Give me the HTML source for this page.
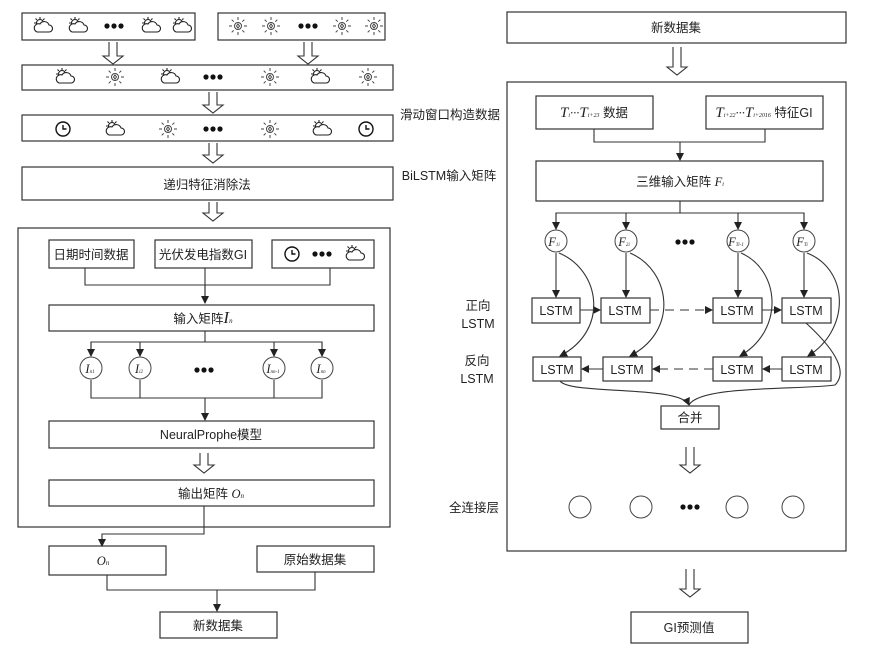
<!DOCTYPE html>
<html><head><meta charset="utf-8"><style>
body{margin:0;background:#fff;}
svg text{font-family:"Liberation Sans","Noto Sans CJK SC",sans-serif;font-size:12.5px;fill:#222;}
.m{font-family:"Liberation Serif",serif;font-style:italic;}
</style></head><body>
<svg width="880" height="656" viewBox="0 0 880 656" xmlns="http://www.w3.org/2000/svg">
<defs>
<marker id="a" markerWidth="8" markerHeight="8" refX="7" refY="4" orient="auto" markerUnits="userSpaceOnUse"><path d="M0,0 L8,4 L0,8 z" fill="#222"/></marker>
<g id="cl" fill="none" stroke="#222" stroke-width="1.1">
<circle cx="-3" cy="-3" r="3.5"/>
<path d="M-3,-9 v2 M-9,-3 h2 M-7.5,-7.5 l1.4,1.4 M1.5,-7.5 l-1.4,1.4"/>
<path d="M-6,6 h12 a3.5,3.5 0 0 0 0,-7 a5,5 0 0 0 -9,-1 a3.5,3.5 0 0 0 -3,8z" fill="#fff"/>
</g>
<g id="su" fill="none" stroke="#444" stroke-width="1">
<circle r="3.5"/><path d="M0,-2 l1.5,2 l-1.5,2 l-1.5,-2z"/>
<path d="M0,-9 v3 M0,6 v3 M-9,0 h3 M6,0 h3 M-6.3,-6.3 l2,2 M6.3,-6.3 l-2,2 M-6.3,6.3 l2,-2 M6.3,6.3 l-2,-2"/>
</g>
<g id="ck" fill="none" stroke="#111" stroke-width="1.4"><circle r="7"/><path d="M0,-4 V0 H3.5"/></g>
<g id="dt" fill="#111"><circle cx="-7" r="2.6"/><circle r="2.6"/><circle cx="7" r="2.6"/></g>
</defs>
<g fill="none" stroke="#333" stroke-width="1.2">
<rect x="22" y="13" width="173" height="27"/>
<rect x="218" y="13" width="167" height="27"/>
<rect x="22" y="65" width="371" height="25"/>
<rect x="22" y="115" width="371" height="26"/>
<rect x="22" y="167" width="371" height="33"/>
<rect x="18" y="228" width="372" height="299"/>
<rect x="49" y="240" width="85" height="28"/>
<rect x="155" y="240" width="97" height="28"/>
<rect x="272" y="240" width="102" height="28"/>
<rect x="49" y="305" width="325" height="26"/>
<rect x="49" y="421" width="325" height="27"/>
<rect x="49" y="480" width="325" height="26"/>
<rect x="49" y="546" width="117" height="29"/>
<rect x="257" y="546" width="117" height="26"/>
<rect x="160" y="612" width="117" height="26"/>
<rect x="507" y="12" width="339" height="31"/>
<rect x="507" y="82" width="339" height="469"/>
<rect x="536" y="96" width="117" height="33"/>
<rect x="706" y="96" width="117" height="33"/>
<rect x="536" y="161" width="287" height="40"/>
<rect x="532" y="298" width="48" height="25"/>
<rect x="601" y="298" width="49" height="25"/>
<rect x="713" y="298" width="49" height="25"/>
<rect x="782" y="298" width="49" height="25"/>
<rect x="533" y="357" width="48" height="24"/>
<rect x="603" y="357" width="49" height="24"/>
<rect x="713" y="357" width="49" height="24"/>
<rect x="782" y="357" width="49" height="24"/>
<rect x="661" y="406" width="58" height="23"/>
<rect x="631" y="612" width="117" height="31"/>
</g>
<g fill="#fff" stroke="#333" stroke-width="1.1">
<path d="M109,42 V56 H103 L113,64 L123,56 H117 V42"/>
<path d="M304,42 V56 H298 L308,64 L318,56 H312 V42"/>
<path d="M209,92 V105 H203 L213,113 L223,105 H217 V92"/>
<path d="M209,143 V155 H203 L213,163 L223,155 H217 V143"/>
<path d="M209,202 V213 H203 L213,221 L223,213 H217 V202"/>
<path d="M200,453 V465 H194 L204,473 L214,465 H208 V453"/>
<path d="M673,47 V67 H667 L677,75 L687,67 H681 V47"/>
<path d="M686,447 V465 H680 L690,473 L700,465 H694 V447"/>
<path d="M686,569 V589 H680 L690,597 L700,589 H694 V569"/>
</g>
<g fill="none" stroke="#333" stroke-width="1.1">
<path d="M85,268 V285 H330 V268 M205,268 V303" />
<path d="M205,285 V303" marker-end="url(#a)"/>
<path d="M205,331 V342 M91,355 V342 H322 V355"/>
<path d="M91,342 V356" marker-end="url(#a)"/><path d="M140,342 V356" marker-end="url(#a)"/>
<path d="M274,342 V356" marker-end="url(#a)"/><path d="M322,342 V356" marker-end="url(#a)"/>
<path d="M91,380 V398 H322 V380 M140,380 V398 M274,380 V398"/>
<path d="M205,398 V420" marker-end="url(#a)"/>
<path d="M204,506 V534 H102 V546" marker-end="url(#a)"/>
<path d="M107,575 V590 H315 V572 M217,590 V611" marker-end="url(#a)"/>
<path d="M594,129 V142 H765 V129"/>
<path d="M680,142 V160" marker-end="url(#a)"/>
<path d="M680,201 V213 M556,228 V213 H804 V228"/>
<path d="M556,213 V229" marker-end="url(#a)"/><path d="M626,213 V229" marker-end="url(#a)"/>
<path d="M738,213 V229" marker-end="url(#a)"/><path d="M804,213 V229" marker-end="url(#a)"/>
<path d="M556,253 V297" marker-end="url(#a)"/><path d="M626,253 V297" marker-end="url(#a)"/>
<path d="M738,253 V297" marker-end="url(#a)"/><path d="M804,253 V297" marker-end="url(#a)"/>
<path d="M580,310 H600" marker-end="url(#a)"/>
<path d="M650,310 H712" stroke-dasharray="9,6" marker-end="url(#a)"/>
<path d="M762,310 H781" marker-end="url(#a)"/>
<path d="M782,369 H763" marker-end="url(#a)"/>
<path d="M713,369 H653" stroke-dasharray="9,6" marker-end="url(#a)"/>
<path d="M603,369 H582" marker-end="url(#a)"/>
<path d="M559,253 C600,270 610,330 560,356" marker-end="url(#a)"/>
<path d="M630,253 C670,270 680,330 630,356" marker-end="url(#a)"/>
<path d="M741,253 C780,270 785,330 740,356" marker-end="url(#a)"/>
<path d="M807,253 C850,270 850,330 808,356" marker-end="url(#a)"/>
<path d="M560,381 C570,395 680,385 689,405" marker-end="url(#a)"/>
<path d="M806,323 C830,345 850,370 835,385 C800,390 700,385 689,405"/>
</g>
<g fill="#fff" stroke="#444" stroke-width="1">
<circle cx="91" cy="368" r="11"/><circle cx="140" cy="368" r="11"/><circle cx="274" cy="368" r="11"/><circle cx="322" cy="368" r="11"/>
<circle cx="556" cy="241" r="11"/><circle cx="626" cy="241" r="11"/><circle cx="738" cy="241" r="11"/><circle cx="804" cy="241" r="11"/>
<circle cx="580" cy="507" r="11"/><circle cx="641" cy="507" r="11"/><circle cx="737" cy="507" r="11"/><circle cx="793" cy="507" r="11"/>
</g>
<use href="#cl" x="43" y="26"/><use href="#cl" x="78" y="26"/><use href="#dt" x="114" y="26"/><use href="#cl" x="151" y="26"/><use href="#cl" x="182" y="26"/>
<use href="#su" x="238" y="26"/><use href="#su" x="271" y="26"/><use href="#dt" x="308" y="26"/><use href="#su" x="342" y="26"/><use href="#su" x="374" y="26"/>
<use href="#cl" x="65" y="77"/><use href="#su" x="115" y="77"/><use href="#cl" x="170" y="77"/><use href="#dt" x="213" y="77"/><use href="#su" x="270" y="77"/><use href="#cl" x="320" y="77"/><use href="#su" x="368" y="77"/>
<use href="#ck" x="63" y="129"/><use href="#cl" x="115" y="129"/><use href="#su" x="168" y="129"/><use href="#dt" x="213" y="129"/><use href="#su" x="270" y="129"/><use href="#cl" x="322" y="129"/><use href="#ck" x="366" y="129"/>
<use href="#ck" x="292" y="254"/><use href="#dt" x="322" y="254"/><use href="#cl" x="355" y="254"/>
<use href="#dt" x="204" y="370"/><use href="#dt" x="685" y="242"/><use href="#dt" x="690" y="507"/>
<g text-anchor="middle">
<text x="207" y="189">递归特征消除法</text>
<text x="91" y="259">日期时间数据</text>
<text x="203" y="259">光伏发电指数GI</text>
<text x="203" y="323">输入矩阵<tspan class="m" font-size="17">I</tspan><tspan class="m" font-size="7">n</tspan></text>
<text x="211" y="439">NeuralProphe模型</text>
<text x="211" y="498">输出矩阵 <tspan class="m">O</tspan><tspan class="m" font-size="7">n</tspan></text>
<text x="103" y="565" class="m">O<tspan font-size="7">n</tspan></text>
<text x="315" y="564">原始数据集</text>
<text x="218" y="630">新数据集</text>
<text x="676" y="32">新数据集</text>
<text x="594" y="117"><tspan class="m" font-size="15">T</tspan><tspan class="m" font-size="6">i</tspan><tspan class="m">···</tspan><tspan class="m" font-size="15">T</tspan><tspan class="m" font-size="6">i+23</tspan> 数据</text>
<text x="764" y="117"><tspan class="m" font-size="15">T</tspan><tspan class="m" font-size="6">i+22</tspan><tspan class="m">···</tspan><tspan class="m" font-size="15">T</tspan><tspan class="m" font-size="6">i+2016</tspan> 特征GI</text>
<text x="680" y="186">三维输入矩阵 <tspan class="m">F</tspan><tspan class="m" font-size="6">i</tspan></text>
<text x="556" y="315">LSTM</text><text x="625" y="315">LSTM</text><text x="737" y="315">LSTM</text><text x="806" y="315">LSTM</text>
<text x="557" y="374">LSTM</text><text x="627" y="374">LSTM</text><text x="737" y="374">LSTM</text><text x="806" y="374">LSTM</text>
<text x="690" y="422">合并</text>
<text x="689" y="632">GI预测值</text>
<text x="478" y="310">正向</text><text x="478" y="328">LSTM</text>
<text x="477" y="365">反向</text><text x="477" y="383">LSTM</text>
<text x="474" y="512">全连接层</text>
<text x="450" y="119">滑动窗口构造数据</text>
<text x="449" y="180">BiLSTM输入矩阵</text>
</g>
<g font-size="13" text-anchor="middle">
<text x="90" y="373" class="m">I<tspan font-size="5">n1</tspan></text><text x="139" y="373" class="m">I<tspan font-size="5">i2</tspan></text><text x="273" y="373" class="m">I<tspan font-size="5">nn-1</tspan></text><text x="321" y="373" class="m">I<tspan font-size="5">nn</tspan></text>
<text x="554" y="246" class="m">F<tspan font-size="5">1i</tspan></text><text x="624" y="246" class="m">F<tspan font-size="5">2i</tspan></text><text x="736" y="246" class="m">F<tspan font-size="5">Ti-1</tspan></text><text x="802" y="246" class="m">F<tspan font-size="5">Ti</tspan></text>
</g>
</svg>
</body></html>
